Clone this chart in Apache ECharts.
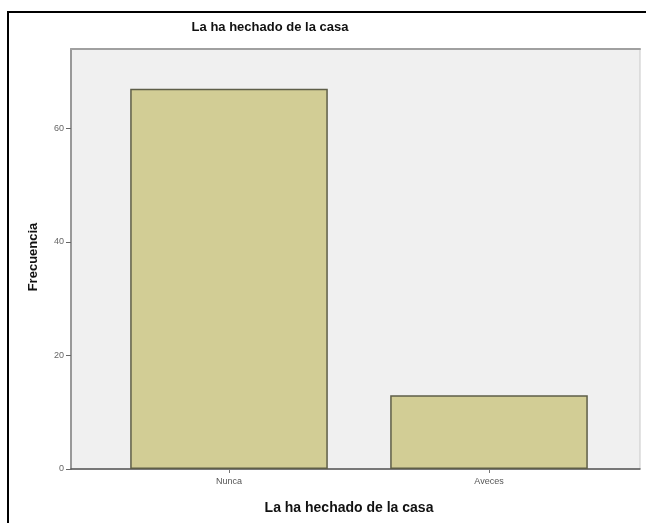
<!DOCTYPE html>
<html>
<head>
<meta charset="utf-8">
<script src="https://cdn.jsdelivr.net/npm/echarts@6/dist/echarts.min.js"></script>
<style>
html,body{margin:0;padding:0;background:#fff;}
#chart{width:646px;height:523px;}
</style>
</head>
<body>
<div id="chart"></div>
<script>
const categories = ['Nunca', 'Aveces'];
const frecuencia = [67, 13];
const yTicks = [0, 20, 40, 60];
const chartTitle = 'La ha hechado de la casa';
const xTitle = 'La ha hechado de la casa';
const yTitle = 'Frecuencia';

const chart = echarts.init(document.getElementById('chart'));
const FONT = 'Liberation Sans, Arial, sans-serif';
const YMAX = 74;

chart.setOption({
  animation: false,
  backgroundColor: '#ffffff',
  graphic: [
    { type: 'rect', shape: { x: 8, y: 12, width: 700, height: 600 }, style: { fill: 'none', stroke: '#000', lineWidth: 2 }, z: 100 },
    { type: 'text', x: 270, y: 27, style: { text: chartTitle, font: 'bold 13px ' + FONT, fill: '#111', align: 'center', verticalAlign: 'middle' } },
    { type: 'text', x: 349, y: 508, style: { text: xTitle, font: 'bold 14px ' + FONT, fill: '#111', align: 'center', verticalAlign: 'middle' } },
    { type: 'text', x: 33, y: 257, rotation: Math.PI / 2, style: { text: yTitle, font: 'bold 13px ' + FONT, fill: '#111', align: 'center', verticalAlign: 'middle' } }
  ],
  grid: [
    { left: 71, right: 6, top: 49, bottom: 54, show: true, backgroundColor: '#f0f0f0', borderColor: '#c8c8c8', borderWidth: 1 },
    { left: 99, right: 27, top: 49, bottom: 54 }
  ],
  xAxis: [
    { gridIndex: 0, type: 'value', min: 0, max: 1, position: 'top',
      axisLine: { show: true, onZero: false, lineStyle: { color: '#a0a0a0', width: 2 } },
      axisTick: { show: false }, axisLabel: { show: false }, splitLine: { show: false } },
    { gridIndex: 1, type: 'category', data: categories, position: 'bottom',
      axisLine: { show: false },
      axisTick: { show: true, alignWithLabel: true, length: 4, lineStyle: { color: '#777' } },
      axisLabel: { color: '#555', fontSize: 9, fontFamily: FONT, margin: 8 } },
    { gridIndex: 0, type: 'value', min: 0, max: 1, position: 'bottom',
      axisLine: { show: true, onZero: false, lineStyle: { color: '#555', width: 1.5 } },
      axisTick: { show: false }, axisLabel: { show: false }, splitLine: { show: false } }
  ],
  yAxis: [
    { gridIndex: 0, type: 'value', min: 0, max: YMAX,
      axisLine: { show: true, lineStyle: { color: '#999', width: 2 } },
      axisTick: { show: true, length: 5, customValues: yTicks, lineStyle: { color: '#666' } },
      axisLabel: { color: '#666', fontSize: 9, fontFamily: FONT, margin: 7, customValues: yTicks },
      splitLine: { show: false } },
    { gridIndex: 1, type: 'value', min: 0, max: YMAX, show: false, splitLine: { show: false } }
  ],
  series: [{
    type: 'bar',
    xAxisIndex: 1, yAxisIndex: 1,
    data: frecuencia,
    barCategoryGap: '24%',
    itemStyle: { color: '#d2cd95', borderColor: '#5e5e48', borderWidth: 1.5 }
  }]
});
</script>
</body>
</html>
